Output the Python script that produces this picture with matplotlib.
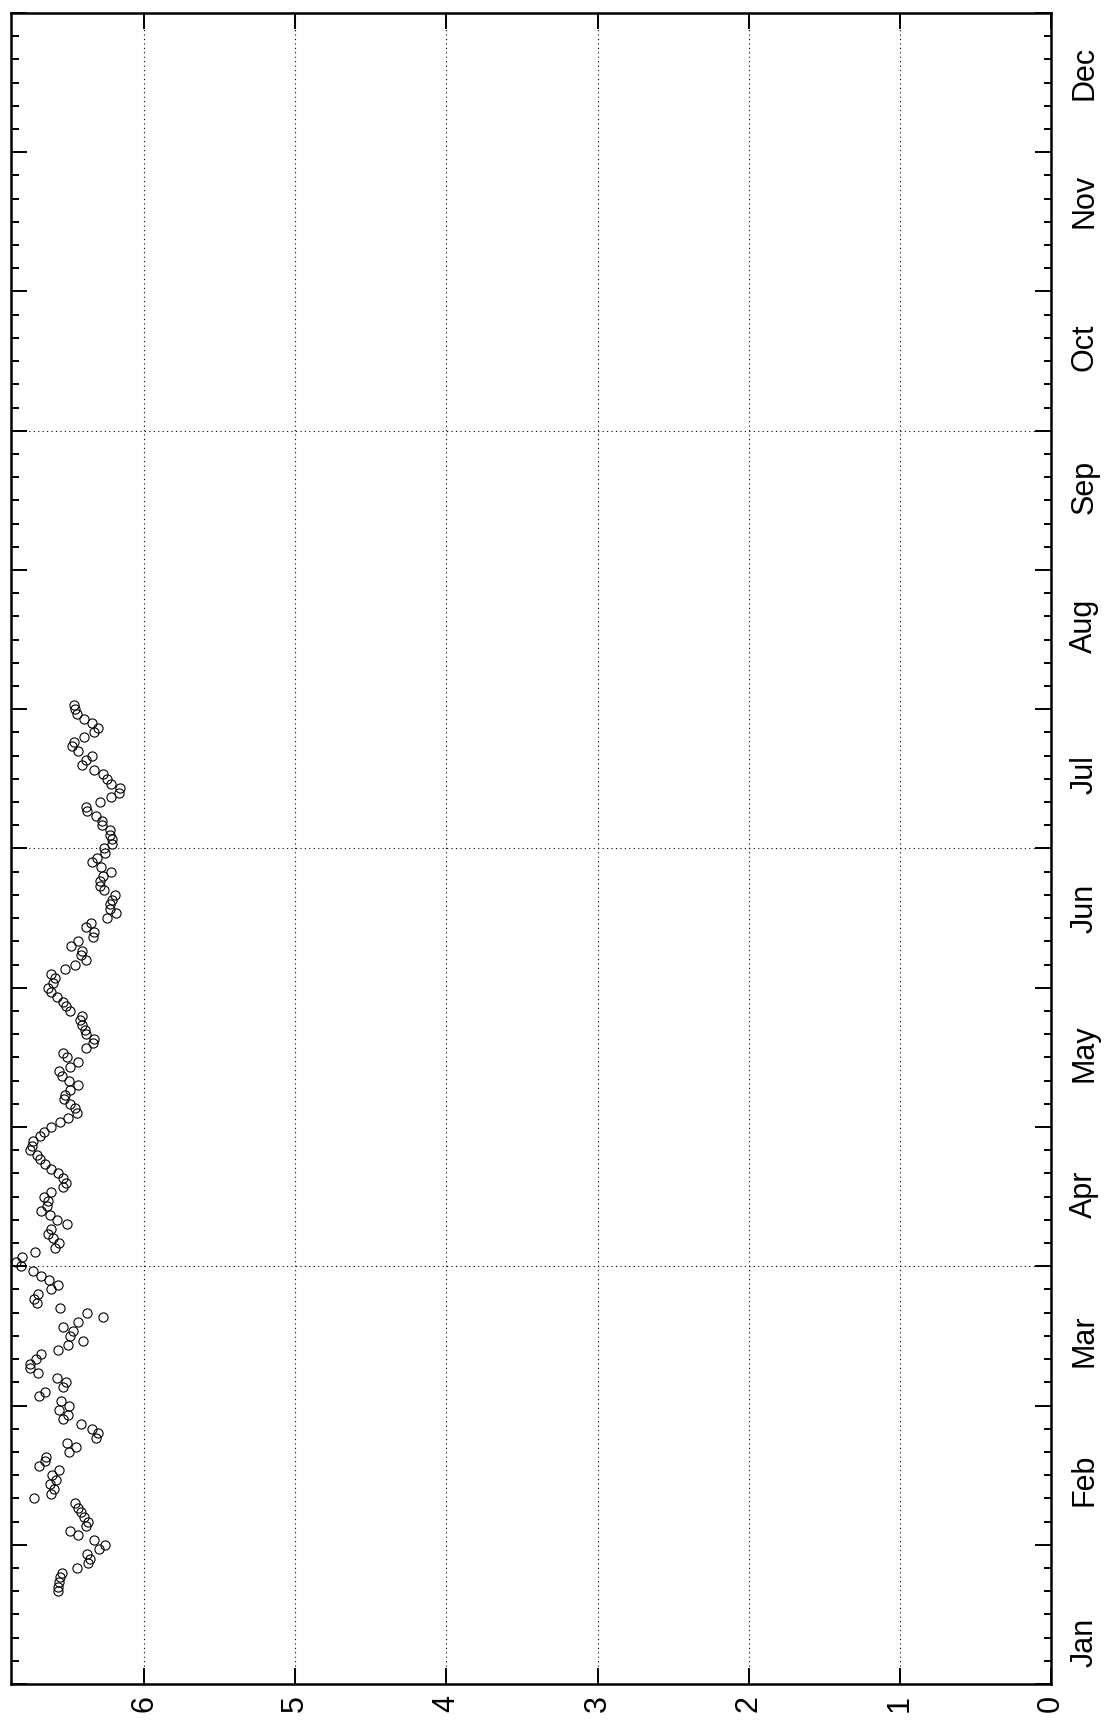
import matplotlib
matplotlib.use("Agg")
import matplotlib.pyplot as plt
from matplotlib.ticker import FixedLocator, MultipleLocator

plt.rcParams['font.family'] = ['Liberation Sans', 'DejaVu Sans']

# day of year (30-day months) and the measured value for that day
days = [
    20, 21, 22, 23, 24, 25, 26, 27, 28, 29,
    30, 31, 32, 33, 34, 35, 36, 37, 38, 39,
    40, 41, 42, 43, 44, 45, 46, 47, 48, 49,
    50, 51, 52, 53, 54, 55, 56, 57, 58, 59,
    60, 61, 62, 63, 64, 65, 66, 67, 68, 69,
    70, 71, 72, 73, 74, 75, 76, 77, 78, 79,
    80, 81, 82, 83, 84, 85, 86, 87, 88, 89,
    90, 91, 92, 93, 94, 95, 96, 97, 98, 99,
    100, 101, 102, 103, 104, 105, 106, 107, 108, 109,
    110, 111, 112, 113, 114, 115, 116, 117, 118, 119,
    120, 121, 122, 123, 124, 125, 126, 127, 128, 129,
    130, 131, 132, 133, 134, 135, 136, 137, 138, 139,
    140, 141, 142, 143, 144, 145, 146, 147, 148, 149,
    150, 151, 152, 153, 154, 155, 156, 157, 158, 159,
    160, 161, 162, 163, 164, 165, 166, 167, 168, 169,
    170, 171, 172, 173, 174, 175, 176, 177, 178, 179,
    180, 181, 182, 183, 184, 185, 186, 187, 188, 189,
    190, 191, 192, 193, 194, 195, 196, 197, 198, 199,
    200, 201, 202, 203, 204, 205, 206, 207, 208, 209,
    210, 211,
]
values = [
    6.567, 6.567, 6.560, 6.553, 6.540, 6.444, 6.370, 6.360, 6.380, 6.300,
    6.260, 6.330, 6.440, 6.490, 6.385, 6.370, 6.400, 6.415, 6.440, 6.458,
    6.730, 6.618, 6.596, 6.625, 6.582, 6.611, 6.560, 6.698, 6.655, 6.647,
    6.495, 6.451, 6.509, 6.320, 6.305, 6.342, 6.415, 6.538, 6.500, 6.560,
    6.495, 6.548, 6.693, 6.654, 6.534, 6.514, 6.574, 6.700, 6.753, 6.753,
    6.713, 6.680, 6.567, 6.501, 6.402, 6.488, 6.468, 6.534, 6.435, 6.269,
    6.375, 6.554, 6.707, 6.726, 6.700, 6.614, 6.567, 6.627, 6.680, 6.733,
    6.813, 6.846, 6.806, 6.720, 6.587, 6.561, 6.600, 6.634, 6.614, 6.508,
    6.574, 6.620, 6.680, 6.640, 6.634, 6.660, 6.614, 6.534, 6.514, 6.534,
    6.567, 6.614, 6.654, 6.687, 6.707, 6.753, 6.740, 6.733, 6.687, 6.660,
    6.614, 6.554, 6.501, 6.441, 6.455, 6.488, 6.528, 6.521, 6.488, 6.435,
    6.495, 6.541, 6.561, 6.488, 6.435, 6.508, 6.534, 6.382, 6.335, 6.329,
    6.382, 6.388, 6.408, 6.422, 6.408, 6.488, 6.514, 6.534, 6.574, 6.614,
    6.634, 6.600, 6.587, 6.614, 6.521, 6.455, 6.382, 6.415, 6.408, 6.481,
    6.435, 6.335, 6.329, 6.382, 6.349, 6.243, 6.183, 6.223, 6.223, 6.210,
    6.190, 6.263, 6.289, 6.289, 6.269, 6.216, 6.282, 6.342, 6.309, 6.256,
    6.263, 6.210, 6.210, 6.223, 6.223, 6.276, 6.276, 6.316, 6.375, 6.382,
    6.289, 6.216, 6.163, 6.157, 6.216, 6.243, 6.269, 6.329, 6.408, 6.382,
    6.342, 6.435, 6.475, 6.461, 6.395, 6.329, 6.302, 6.342, 6.395, 6.441,
    6.455, 6.461,
]

months = ["Jan", "Feb", "Mar", "Apr", "May", "Jun",
          "Jul", "Aug", "Sep", "Oct", "Nov", "Dec"]
month_days = [9, 44, 74, 105.5, 136, 167, 196, 228, 258, 288, 319.5, 347]
value_ticks = [0, 1, 2, 3, 4, 5, 6]

W, H = 1105, 1726
fig = plt.figure(figsize=(W / 100, H / 100), dpi=100)
# page is printed landscape: value axis runs right-to-left along the bottom,
# time runs bottom-to-top
ax = fig.add_axes([11 / W, 42 / H, 1040 / W, 1671 / H])

ax.plot(values, days, 'o', ls='none', mfc='none', mec='black', ms=6.6, mew=0.8)

ax.set_xlim(6.88, 0)
ax.set_ylim(0, 360)

ax.xaxis.set_major_locator(FixedLocator(value_ticks))
ax.set_xticklabels([str(v) for v in value_ticks])
ax.yaxis.set_major_locator(MultipleLocator(30))
ax.yaxis.set_minor_locator(MultipleLocator(5))

ax.tick_params(axis='both', which='major', direction='in', length=11.5, width=1.4,
               top=True, bottom=True, left=True, right=True)
ax.tick_params(axis='y', which='minor', direction='in', length=5.4, width=1.4,
               left=True, right=True)
ax.tick_params(axis='y', labelleft=False, labelright=False)
ax.tick_params(axis='x', labelsize=22, labelrotation=90, pad=8)

for s in ax.spines.values():
    s.set_linewidth(1.8)

# dotted grid
for v in value_ticks[1:]:
    ax.axvline(v, color='black', lw=0.8, ls=(0, (1, 3)), zorder=0)
for d in (90, 180, 270):
    ax.axhline(d, color='black', lw=0.8, ls=(0, (1, 3)), zorder=0)

# month names along the right-hand side
for m, d in zip(months, month_days):
    ax.text(1.032, d, m, transform=ax.get_yaxis_transform(),
            rotation=90, ha='center', va='center', fontsize=22)

fig.savefig("out.png", dpi=100)
